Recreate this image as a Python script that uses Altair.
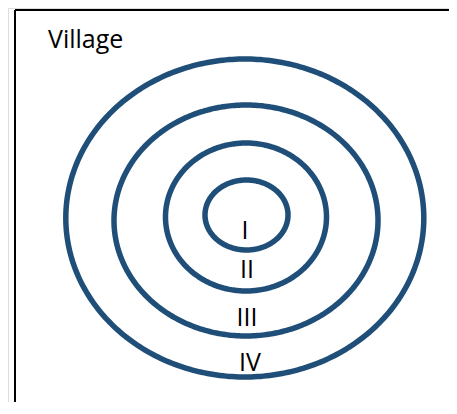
import altair as alt
import numpy as np
import pandas as pd

# Ring geometry (page pixel coordinates)
rings = ["I", "II", "III", "IV"]
ring_cx = [246.5, 246.0, 246.0, 244.8]
ring_cy = [215.0, 217.0, 220.5, 218.0]
ring_rx = [41.5, 80.5, 132.0, 179.0]
ring_ry = [35.0, 74.0, 115.5, 159.0]

# Labels
label_text = ["I", "II", "III", "IV"]
label_x = [245, 247, 247, 250]
label_y = [239, 278, 326, 371]

title_text = ["Village"]
title_x = [48]
title_y = [48]

# Frame (left and top edges)
frame_left = 15
frame_top = 10

W, H = 441, 394

rows = []
t = np.linspace(0, 2 * np.pi, 361)
for name, cx, cy, rx, ry in zip(rings, ring_cx, ring_cy, ring_rx, ring_ry):
    for i, tt in enumerate(t):
        rows.append({"ring": name, "i": i, "x": cx + rx * np.cos(tt), "y": cy + ry * np.sin(tt)})
ell = pd.DataFrame(rows)

xs = alt.Scale(domain=[8, 8 + W])
ys = alt.Scale(domain=[8, 8 + H], reverse=True)

ellipses = alt.Chart(ell).mark_line(color="#1F4E79", strokeWidth=5.5).encode(
    x=alt.X("x:Q", scale=xs, axis=None),
    y=alt.Y("y:Q", scale=ys, axis=None),
    detail="ring:N",
    order="i:Q",
)

frame_df = pd.DataFrame({
    "x": [frame_left, frame_left],
    "y": [frame_top, frame_top],
    "x2": [frame_left, 8 + W],
    "y2": [8 + H, frame_top],
})
frame = alt.Chart(frame_df).mark_rule(color="#000000", strokeWidth=2).encode(
    x=alt.X("x:Q", scale=xs, axis=None),
    y=alt.Y("y:Q", scale=ys, axis=None),
    x2="x2:Q",
    y2="y2:Q",
)

lab_df = pd.DataFrame({"t": label_text, "x": label_x, "y": label_y})
labels = alt.Chart(lab_df).mark_text(
    font="Open Sans", fontSize=25, align="center", baseline="alphabetic", color="#000000"
).encode(
    x=alt.X("x:Q", scale=xs, axis=None),
    y=alt.Y("y:Q", scale=ys, axis=None),
    text="t:N",
)

title_df = pd.DataFrame({"t": title_text, "x": title_x, "y": title_y})
title = alt.Chart(title_df).mark_text(
    font="Open Sans", fontSize=25, align="left", baseline="alphabetic", color="#000000"
).encode(
    x=alt.X("x:Q", scale=xs, axis=None),
    y=alt.Y("y:Q", scale=ys, axis=None),
    text="t:N",
)

chart = alt.layer(frame, ellipses, labels, title).properties(
    width=W, height=H, padding=0,
    autosize=alt.AutoSizeParams(type="none"),
).configure_view(stroke=None).configure(background="#ffffff")

chart.save("out.html", embed_options={"renderer": "svg", "actions": False})
